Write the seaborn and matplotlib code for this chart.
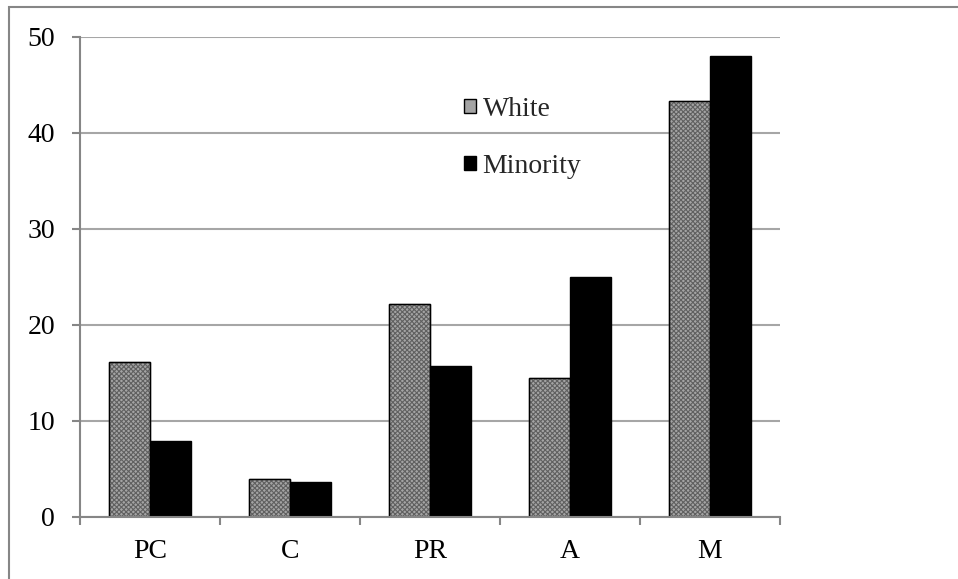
import matplotlib
matplotlib.use("Agg")
import matplotlib.pyplot as plt
from matplotlib.patches import Rectangle
import seaborn as sns
import pandas as pd

categories = ["PC", "C", "PR", "A", "M"]
white = [16.1, 4.0, 22.2, 14.5, 43.3]
minority = [7.9, 3.6, 15.7, 25.0, 48.0]
groups = ["White", "Minority"]
y_ticks = [0, 10, 20, 30, 40, 50]

df = pd.DataFrame({
    "category": categories * 2,
    "value": white + minority,
    "group": [groups[0]] * len(categories) + [groups[1]] * len(categories),
})

sns.set_theme(style="white")
plt.rcParams["font.family"] = ["Liberation Serif", "DejaVu Serif"]
plt.rcParams["hatch.linewidth"] = 0.8

W, H = 958, 579
fig = plt.figure(figsize=(W / 100, H / 100), dpi=100)
ax = fig.add_axes([80 / W, (H - 517) / H, 700 / W, 480 / H])

grey_fill = "#a4a4a4"
sns.barplot(data=df, x="category", y="value", hue="group", order=categories,
            hue_order=groups, palette=[grey_fill, "black"], saturation=1,
            width=0.59, edgecolor="black", linewidth=1.0, ax=ax, zorder=3,
            legend=True)

# Checkered texture on the first series, with a crisp black outline on top
n = len(categories)
for p in ax.patches[:n]:
    p.set_hatch("xxxxxxx")
    p.set_edgecolor("#606060")
    ax.add_patch(Rectangle(p.get_xy(), p.get_width(), p.get_height(),
                           fill=False, edgecolor="black", linewidth=1.0, zorder=4))

ax.set_xlim(-0.5, n - 0.5)
ax.set_ylim(0, 50)
ax.set_yticks(y_ticks)
ax.set_yticklabels([str(t) for t in y_ticks], fontsize=20)
ax.set_xticks(range(n))
ax.set_xticklabels(categories, fontsize=20)
ax.set_xticks([i - 0.5 for i in range(n + 1)], minor=True)
ax.set_xlabel("")
ax.set_ylabel("")

axis_grey = "#868686"
ax.yaxis.grid(True, color="#a6a6a6", linewidth=1.5, zorder=0)
ax.xaxis.grid(False)
ax.set_axisbelow(True)
for s in ["top", "right"]:
    ax.spines[s].set_visible(False)
for s in ["left", "bottom"]:
    ax.spines[s].set_color(axis_grey)
    ax.spines[s].set_linewidth(1.5)
    ax.spines[s].set_zorder(5)

ax.tick_params(axis="y", which="major", left=True, length=6, width=1.5,
               color=axis_grey, pad=12, labelcolor="black")
ax.tick_params(axis="x", which="major", bottom=False, length=0, pad=16,
               labelcolor="black")
ax.tick_params(axis="x", which="minor", bottom=True, length=6, width=1.5,
               color=axis_grey)

handles, labels = ax.get_legend_handles_labels()
ax.legend(handles, labels, loc="upper left",
          bbox_to_anchor=(464 / W, (H - 97) / H), bbox_transform=fig.transFigure,
          frameon=False, fontsize=20, handlelength=0.42, handleheight=0.42,
          handletextpad=0.25, labelspacing=1.15, borderpad=0, borderaxespad=0)

# Chart-area border
fig.add_artist(Rectangle((9 / W, -0.05), 1.0, (H - 7) / H + 0.05,
                         transform=fig.transFigure, fill=False,
                         edgecolor=axis_grey, linewidth=1.5))

fig.savefig("out.png", dpi=100)
